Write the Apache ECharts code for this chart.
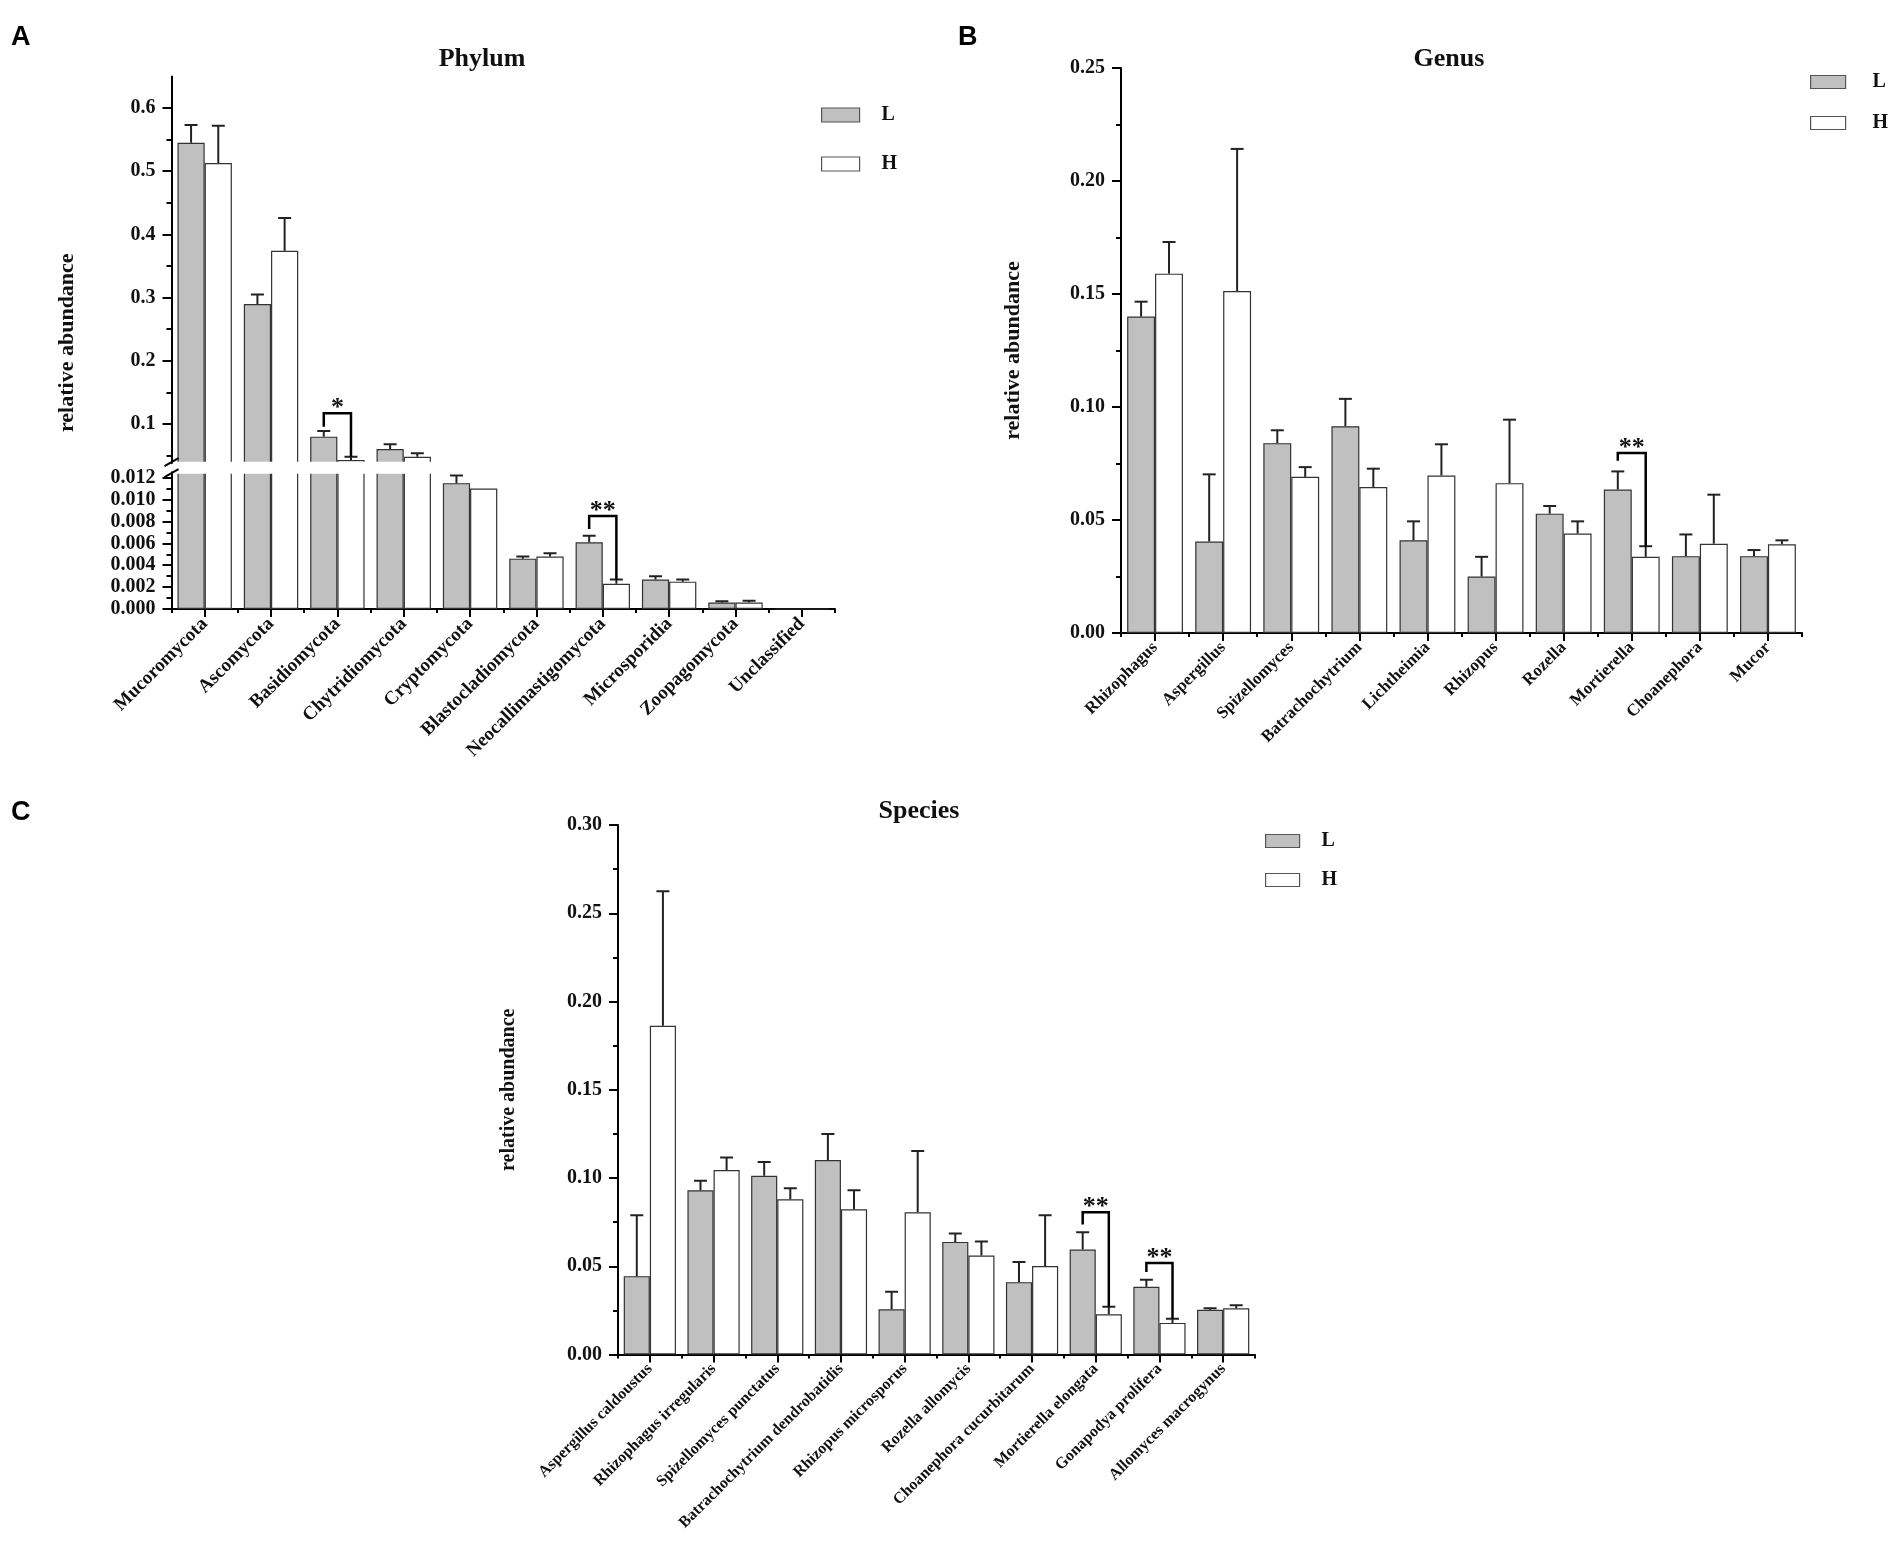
<!DOCTYPE html>
<html>
<head>
<meta charset="utf-8">
<script src="https://cdn.jsdelivr.net/npm/echarts@6/dist/echarts.min.js"></script>
<style>
html,body{margin:0;padding:0;background:#fff;}
#c{width:1901px;height:1548px;}
</style>
</head>
<body>
<div id="c"></div>
<script>
// ---------- DATA ----------
const phylumCats = ['Mucoromycota','Ascomycota','Basidiomycota','Chytridiomycota','Cryptomycota','Blastocladiomycota','Neocallimastigomycota','Microsporidia','Zoopagomycota','Unclassified'];
const phylumL    = [0.545, 0.290, 0.080, 0.0604, 0.0115, 0.0046, 0.0061, 0.0027, 0.0006, 0];
const phylumLErr = [0.573, 0.305, 0.0889, 0.0678, 0.0122, 0.0048, 0.0067, 0.0030, 0.0007, null];
const phylumH    = [0.513, 0.374, 0.043, 0.0483, 0.0110, 0.0048, 0.0023, 0.0025, 0.0006, 0];
const phylumHErr = [0.572, 0.426, 0.0483, 0.0537, null, 0.0051, 0.0027, 0.0027, 0.00075, null];
const phylumUpperTicks = [0.1, 0.2, 0.3, 0.4, 0.5, 0.6];
const phylumUpperMinor = [0.05, 0.15, 0.25, 0.35, 0.45, 0.55];
const phylumLowerTicks = [0, 0.002, 0.004, 0.006, 0.008, 0.010, 0.012];
const phylumLowerMinor = [0.001, 0.003, 0.005, 0.007, 0.009, 0.011];
// significance brackets: category index, left end, right end, bracket level, label
const phylumSigUpCat = [2];   const phylumSigUpLeft = [0.0958]; const phylumSigUpRight = [0.0483]; const phylumSigUpTop = [0.1169]; const phylumSigUpLabel = ['*'];
const phylumSigLoCat = [6];   const phylumSigLoLeft = [0.0073]; const phylumSigLoRight = [0.0027]; const phylumSigLoTop = [0.0085]; const phylumSigLoLabel = ['**'];

const genusCats = ['Rhizophagus','Aspergillus','Spizellomyces','Batrachochytrium','Lichtheimia','Rhizopus','Rozella','Mortierella','Choanephora','Mucor'];
const genusL    = [0.140, 0.0405, 0.084, 0.0915, 0.041, 0.025, 0.0528, 0.0635, 0.034, 0.034];
const genusLErr = [0.1466, 0.0702, 0.0897, 0.1036, 0.0494, 0.0337, 0.0562, 0.0715, 0.0436, 0.0367];
const genusH    = [0.159, 0.1513, 0.0691, 0.0646, 0.0697, 0.0663, 0.044, 0.0337, 0.0395, 0.0393];
const genusHErr = [0.173, 0.2142, 0.0734, 0.0727, 0.0835, 0.0944, 0.0494, 0.0384, 0.0612, 0.041];
const genusSigCat = [7]; const genusSigLeft = [0.0762]; const genusSigRight = [0.0384]; const genusSigTop = [0.0796]; const genusSigLabel = ['**'];

const speciesCats = ['Aspergillus caldoustus','Rhizophagus irregularis','Spizellomyces punctatus','Batrachochytrium dendrobatidis','Rhizopus microsporus','Rozella allomycis','Choanephora cucurbitarum','Mortierella elongata','Gonapodya prolifera','Allomyces macrogynus'];
const speciesL    = [0.0444, 0.0931, 0.1013, 0.1102, 0.0256, 0.0638, 0.041, 0.0595, 0.0384, 0.0253];
const speciesLErr = [0.0789, 0.0985, 0.109, 0.125, 0.0356, 0.0686, 0.0524, 0.0692, 0.0424, 0.0262];
const speciesH    = [0.1862, 0.1045, 0.088, 0.0823, 0.0806, 0.0561, 0.0501, 0.0228, 0.0179, 0.0262];
const speciesHErr = [0.2625, 0.1116, 0.0942, 0.0931, 0.1153, 0.064, 0.0789, 0.027, 0.0202, 0.0279];
const speciesSigCat = [7, 8]; const speciesSigLeft = [0.0737, 0.0467]; const speciesSigRight = [0.027, 0.0202]; const speciesSigTop = [0.0806, 0.0518]; const speciesSigLabel = ['**','**'];

// ---------- STYLE / LAYOUT ----------
const SERIF = 'Liberation Serif';
const SANS = 'Liberation Sans';
const CAT_GAP = 0.18;
const L_COLOR = '#c0c0c0';
const H_COLOR = '#ffffff';

const GA_UP = {left:171.5, top:76.4, width:663.5, height:386.8};
const GA_LO = {left:171.5, top:472.2, width:663.5, height:136.8};
const GB = {left:1121, top:68, width:681, height:565};
const GC = {left:618, top:825, width:637, height:529.5};

function grid(g){ return Object.assign({containLabel:false, outerBoundsMode:'none', show:false}, g); }

function errData(L, LE, H, HE){
  const out = [];
  for (let i = 0; i < L.length; i++) {
    if (LE[i] != null) out.push([i, L[i], LE[i], -1]);
    if (HE[i] != null) out.push([i, H[i], HE[i], 1]);
  }
  return out;
}
function errRender(params, api){
  const c = api.value(0), v = api.value(1), e = api.value(2), side = api.value(3);
  const bw = api.size([1, 0])[0] * (1 - CAT_GAP) / 2;
  const p0 = api.coord([c, v]);
  const p1 = api.coord([c, e]);
  const x = p0[0] + side * bw / 2;
  const cap = 6.5;
  return {type:'group', children:[
    {type:'line', shape:{x1:x, y1:p0[1], x2:x, y2:p1[1]}, style:{stroke:'#222', lineWidth:2}},
    {type:'line', shape:{x1:x-cap, y1:p1[1], x2:x+cap, y2:p1[1]}, style:{stroke:'#222', lineWidth:2}}
  ]};
}
function sigData(cat, left, right, top){
  return cat.map((c, i) => [c, left[i], right[i], top[i]]);
}
function sigRender(labels){
  return function(params, api){
    const c = api.value(0), lb = api.value(1), rb = api.value(2), top = api.value(3);
    const bw = api.size([1, 0])[0] * (1 - CAT_GAP) / 2;
    const pt = api.coord([c, top]);
    const xl = pt[0] - bw / 2, xr = pt[0] + bw / 2;
    const yt = pt[1];
    const yl = api.coord([c, lb])[1];
    const yr = api.coord([c, rb])[1];
    return {type:'group', children:[
      {type:'polyline', shape:{points:[[xl, yl], [xl, yt], [xr, yt], [xr, yr]]}, style:{stroke:'#000', lineWidth:2.5, fill:null}},
      {type:'text', x:(xl + xr) / 2, y:yt - 5, style:{text:labels[params.dataIndex], fontFamily:SERIF, fontWeight:'bold', fontSize:26, fill:'#111', align:'center', verticalAlign:'middle'}}
    ]};
  };
}
function bar(name, data, xi, yi, color){
  return {type:'bar', name:name, data:data, xAxisIndex:xi, yAxisIndex:yi, barGap:'0%', barCategoryGap:(CAT_GAP*100)+'%',
    itemStyle:{color:color, borderColor:'#333', borderWidth:1.2}, emphasis:{disabled:true}, clip:true, z:2};
}
function errSeries(data, xi, yi){
  return {type:'custom', xAxisIndex:xi, yAxisIndex:yi, data:data, renderItem:errRender, clip:true, z:5, silent:true};
}
function sigSeries(data, labels, xi, yi){
  return {type:'custom', xAxisIndex:xi, yAxisIndex:yi, data:data, renderItem:sigRender(labels), clip:false, z:6, silent:true};
}

const axisLineStyle = {color:'#000', width:2};
function catAxis(gi, cats, fontSize, show){
  return {type:'category', gridIndex:gi, data:cats, position:'bottom', show:show,
    axisLine:{show:true, lineStyle:axisLineStyle, onZero:false},
    axisTick:{show:true, alignWithLabel:true, interval:0, length:8, lineStyle:{color:'#000', width:2}},
    axisLabel:{show:true, interval:0, rotate:45, margin:12, fontFamily:SERIF, fontWeight:'bold', fontSize:fontSize, color:'#111'},
    splitLine:{show:false}};
}
function catMinorAxis(gi, cats){
  return {type:'category', gridIndex:gi, data:cats, position:'bottom',
    axisLine:{show:false}, axisTick:{show:true, alignWithLabel:false, interval:0, length:4, lineStyle:{color:'#000', width:2}},
    axisLabel:{show:false}, splitLine:{show:false}};
}
const yLabel = {fontFamily:SERIF, fontWeight:'bold', fontSize:20, color:'#111', margin:16};
const legendText = {fontFamily:SERIF, fontWeight:'bold', fontSize:20, color:'#111'};

const option = {
  backgroundColor:'#fff',
  animation:false,
  title:[
    {text:'A', left:11, top:24, padding:0, textStyle:{fontFamily:SANS, fontWeight:'bold', fontSize:27, color:'#000'}},
    {text:'B', left:958, top:24, padding:0, textStyle:{fontFamily:SANS, fontWeight:'bold', fontSize:27, color:'#000'}},
    {text:'C', left:11, top:799, padding:0, textStyle:{fontFamily:SANS, fontWeight:'bold', fontSize:27, color:'#000'}},
    {text:'Phylum', left:482, top:46, padding:0, textAlign:'center', textStyle:{fontFamily:SERIF, fontWeight:'bold', fontSize:26, color:'#111'}},
    {text:'Genus', left:1449, top:46, padding:0, textAlign:'center', textStyle:{fontFamily:SERIF, fontWeight:'bold', fontSize:26, color:'#111'}},
    {text:'Species', left:919, top:798, padding:0, textAlign:'center', textStyle:{fontFamily:SERIF, fontWeight:'bold', fontSize:26, color:'#111'}}
  ],
  legend:[
    {data:['L','H'], orient:'vertical', left:821, top:105, padding:0, itemWidth:38, itemHeight:14, itemGap:29, icon:'rect', selectedMode:false,
      itemStyle:{borderColor:'#555', borderWidth:1.2}, textStyle:Object.assign({padding:[0,0,0,17]}, legendText)},
    {data:['L','H'], orient:'vertical', left:1810, top:72, padding:0, itemWidth:35, itemHeight:13, itemGap:21, icon:'rect', selectedMode:false,
      itemStyle:{borderColor:'#555', borderWidth:1.2}, textStyle:Object.assign({padding:[0,0,0,22]}, legendText)},
    {data:['L','H'], orient:'vertical', left:1265, top:831, padding:0, itemWidth:34, itemHeight:13, itemGap:19, icon:'rect', selectedMode:false,
      itemStyle:{borderColor:'#555', borderWidth:1.2}, textStyle:Object.assign({padding:[0,0,0,17]}, legendText)}
  ],
  grid:[grid(GA_UP), grid(GA_LO), grid(GB), grid(GC)],
  xAxis:[
    {type:'category', gridIndex:0, data:phylumCats, show:false},
    catAxis(1, phylumCats, 19, true),
    catMinorAxis(1, phylumCats),
    catAxis(2, genusCats, 17, true),
    catMinorAxis(2, genusCats),
    catAxis(3, speciesCats, 16, true),
    catMinorAxis(3, speciesCats)
  ],
  yAxis:[
    {type:'value', gridIndex:0, min:0.038, max:0.65, position:'left',
      axisLine:{show:true, lineStyle:axisLineStyle},
      axisTick:{show:true, length:9, customValues:phylumUpperTicks, lineStyle:{color:'#000', width:2}},
      axisLabel:Object.assign({customValues:phylumUpperTicks, formatter:v => v.toFixed(1)}, yLabel),
      splitLine:{show:false}},
    {type:'value', gridIndex:0, min:0.038, max:0.65, position:'left',
      axisLine:{show:false}, axisTick:{show:true, length:5, customValues:phylumUpperMinor, lineStyle:{color:'#000', width:2}},
      axisLabel:{show:false}, splitLine:{show:false}},
    {type:'value', gridIndex:1, min:0, max:0.0125, position:'left',
      axisLine:{show:true, lineStyle:axisLineStyle},
      axisTick:{show:true, length:9, customValues:phylumLowerTicks, lineStyle:{color:'#000', width:2}},
      axisLabel:Object.assign({customValues:phylumLowerTicks, formatter:v => v.toFixed(3)}, yLabel),
      splitLine:{show:false}},
    {type:'value', gridIndex:1, min:0, max:0.0125, position:'left',
      axisLine:{show:false}, axisTick:{show:true, length:5, customValues:phylumLowerMinor, lineStyle:{color:'#000', width:2}},
      axisLabel:{show:false}, splitLine:{show:false}},
    {type:'value', gridIndex:2, min:0, max:0.25, interval:0.05, position:'left',
      name:'relative abundance', nameLocation:'middle', nameGap:97,
      nameTextStyle:{fontFamily:SERIF, fontWeight:'bold', fontSize:22, color:'#111'},
      axisLine:{show:true, lineStyle:axisLineStyle},
      axisTick:{show:true, length:9, lineStyle:{color:'#000', width:2}},
      minorTick:{show:true, splitNumber:2, length:5, lineStyle:{color:'#000', width:2}},
      axisLabel:Object.assign({formatter:v => v.toFixed(2)}, yLabel),
      splitLine:{show:false}, minorSplitLine:{show:false}},
    {type:'value', gridIndex:3, min:0, max:0.30, interval:0.05, position:'left',
      name:'relative abundance', nameLocation:'middle', nameGap:99,
      nameTextStyle:{fontFamily:SERIF, fontWeight:'bold', fontSize:20, color:'#111'},
      axisLine:{show:true, lineStyle:axisLineStyle},
      axisTick:{show:true, length:9, lineStyle:{color:'#000', width:2}},
      minorTick:{show:true, splitNumber:2, length:5, lineStyle:{color:'#000', width:2}},
      axisLabel:Object.assign({formatter:v => v.toFixed(2)}, yLabel),
      splitLine:{show:false}, minorSplitLine:{show:false}}
  ],
  series:[
    // Phylum upper
    bar('L', phylumL, 0, 0, L_COLOR),
    bar('H', phylumH, 0, 0, H_COLOR),
    errSeries(errData(phylumL, phylumLErr, phylumH, phylumHErr), 0, 0),
    sigSeries(sigData(phylumSigUpCat, phylumSigUpLeft, phylumSigUpRight, phylumSigUpTop), phylumSigUpLabel, 0, 0),
    // Phylum lower
    bar('L', phylumL, 1, 2, L_COLOR),
    bar('H', phylumH, 1, 2, H_COLOR),
    errSeries(errData(phylumL, phylumLErr, phylumH, phylumHErr), 1, 2),
    sigSeries(sigData(phylumSigLoCat, phylumSigLoLeft, phylumSigLoRight, phylumSigLoTop), phylumSigLoLabel, 1, 2),
    // Genus
    bar('L', genusL, 3, 4, L_COLOR),
    bar('H', genusH, 3, 4, H_COLOR),
    errSeries(errData(genusL, genusLErr, genusH, genusHErr), 3, 4),
    sigSeries(sigData(genusSigCat, genusSigLeft, genusSigRight, genusSigTop), genusSigLabel, 3, 4),
    // Species
    bar('L', speciesL, 5, 5, L_COLOR),
    bar('H', speciesH, 5, 5, H_COLOR),
    errSeries(errData(speciesL, speciesLErr, speciesH, speciesHErr), 5, 5),
    sigSeries(sigData(speciesSigCat, speciesSigLeft, speciesSigRight, speciesSigTop), speciesSigLabel, 5, 5)
  ],
  graphic:[
    // white break band across the broken axis of panel A
    {type:'rect', z:100, silent:true,
      shape:{x:GA_UP.left + 1.2, y:GA_UP.top + GA_UP.height - 1.5, width:GA_UP.width + 4, height:(GA_LO.top - GA_UP.top - GA_UP.height) + 3},
      style:{fill:'#fff'}},
    // break marks on the y axis
    {type:'line', z:101, silent:true, shape:{x1:GA_UP.left - 7, y1:GA_UP.top + GA_UP.height + 3, x2:GA_UP.left + 7, y2:GA_UP.top + GA_UP.height - 5}, style:{stroke:'#000', lineWidth:2}},
    {type:'line', z:101, silent:true, shape:{x1:GA_LO.left - 7, y1:GA_LO.top + 5, x2:GA_LO.left + 7, y2:GA_LO.top - 3}, style:{stroke:'#000', lineWidth:2}},
    // y axis name of panel A (spans both broken parts)
    {type:'text', z:10, silent:true, x:67, y:(GA_UP.top + GA_LO.top + GA_LO.height) / 2, rotation:Math.PI / 2,
      style:{text:'relative abundance', fontFamily:SERIF, fontWeight:'bold', fontSize:22, fill:'#111', align:'center', verticalAlign:'middle'}}
  ]
};

const chart = echarts.init(document.getElementById('c'), null, {renderer:'canvas'});
chart.setOption(option);
</script>
</body>
</html>
